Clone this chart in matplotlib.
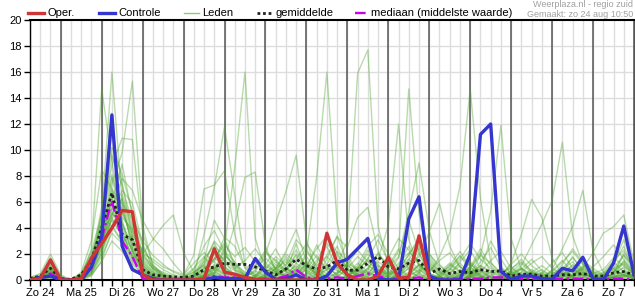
import numpy as np
import matplotlib
matplotlib.use('Agg')
import matplotlib.pyplot as plt
from matplotlib.lines import Line2D

plt.rcParams['font.family'] = ['Liberation Sans', 'DejaVu Sans']
plt.rcParams['font.size'] = 8

# 6-hourly steps, first step is zo 24 06:00
days = ['Zo 24', 'Ma 25', 'Di 26', 'Wo 27', 'Do 28', 'Vr 29', 'Za 30', 'Zo 31',
        'Ma 1', 'Di 2', 'Wo 3', 'Do 4', 'Vr 5', 'Za 6', 'Zo 7']

oper = [0, .1, 1.55, 0, 0, .1, 1.7, 2.8, 4.0, 5.35,
        5.25, .4, 0, 0, 0, 0, 0, .1, 2.4, .6,
        .45, .2, .05, 0, 0, 0, 0, 0, 0, 3.6,
        1.3, .4, 0, 0, .3, 1.75, .15, .2, 3.4, .1]

controle = [0, .2, .3, 0, 0, 0, 1.0, 3.3, 12.7, 2.6,
            .8, .4, .1, 0, 0, 0, 0, 0, .2, .1,
            .1, .1, 1.65, .6, .05, .1, .4, 0, 0, .3,
            1.3, 1.6, 2.4, 3.2, .1, 0, 0, 4.7, 6.4, .3,
            0, 0, 0, 2.0, 11.2, 12.0, .65, .05, .3, .3,
            .1, .05, .9, .7, 1.75, .1, 0, 1.3, 4.15, .4]

gemiddelde = [.1, .3, .9, .1, .05, .4, 1.5, 4.0, 6.7, 3.5,
              3.1, .8, .4, .3, .25, .2, .3, .8, 1.0, 1.3,
              1.2, 1.2, 1.0, .7, .4, .85, 1.6, 1.1, .85, 1.0,
              1.5, .75, .75, 1.3, 1.8, 1.0, .85, 1.3, 1.5, .5,
              .85, .5, .65, .55, .8, .65, .7, .3, .45, .45,
              .3, .3, .4, .4, .5, .3, .3, .55, .65, .4]

mediaan = [0, .05, .5, 0, 0, .1, .9, 3.2, 6.1, 3.0,
           1.8, .1, 0, 0, 0, 0, 0, .1, .3, .2,
           .2, .1, .1, .1, .1, .3, .8, .2, .1, .1,
           .2, .1, .3, .5, .3, .1, .1, .1, .2, 0,
           .1, .1, .1, .1, .1, .2, .2, .1, .1, .1,
           .05, .05, .1, .1, .1, .05, .05, .1, .1, .05]

leden = [
    [0, .2, 1.1, 0, 0, .1, .8, 5.2, 16.0, 6.1,
     2.3, .5, .1, 0, 0, 0, 0, .3, 1.2, .8,
     .4, .1, 0, 0, .6, 1.8, .9, .2, 0, .5,
     1.4, .3, 0, .2, 1.1, .5, 0, .3, 2.1, .4,
     0, .2, .6, 1.3, .4, 0, .1, 0, 0, .3,
     .5, 0, .2, .8, .3, 0, .1, .6, .9, .2],
    [0, 0, .6, .1, 0, .3, 2.4, 14.7, 9.2, 3.5,
     1.8, .9, .3, .1, 0, 0, .1, .6, 2.3, 1.5,
     .3, 0, 0, .4, 1.2, .6, 2.8, .7, .1, 0,
     .2, .9, .5, .1, 0, 0, .4, 1.6, .8, .2,
     0, 0, .3, .9, 2.1, .6, .2, 0, 0, 0,
     .1, .4, .9, .3, 0, 0, .2, .4, .1, 0],
    [.1, .3, 1.4, .2, 0, 0, .5, 3.1, 7.4, 9.8,
     15.3, 4.2, 1.1, .4, .2, 0, 0, 0, .5, 1.9,
     1.1, .4, 0, 0, .2, .5, 1.1, .3, 0, 1.2,
     2.6, .8, .2, 0, .4, 1.3, .6, 0, .2, 0,
     0, .5, 1.1, .4, 0, 0, .3, .7, .2, 0,
     0, 0, .4, 1.2, .6, .1, 0, .3, 1.5, .6],
    [0, 0, .8, 0, 0, .2, 1.3, 4.4, 8.1, 5.3,
     3.1, 1.4, .6, .2, 0, 0, .4, 3.5, 7.1, 11.8,
     6.5, 1.2, .3, 0, 0, .3, .8, .2, 0, .1,
     .6, 1.8, .7, .2, 0, 0, .1, .5, 1.2, .4,
     .2, 0, 0, .3, .8, .4, 0, 0, .2, .6,
     .3, 0, 0, .1, .5, .2, 0, 0, .4, .2],
    [0, .1, .5, 0, 0, 0, .9, 3.6, 6.2, 4.1,
     2.2, .8, .2, 0, 0, 0, 0, .2, .6, 2.5,
     8.7, 16.0, 3.2, .8, .2, 0, .4, 1.3, .5, .1,
     0, .2, .9, .4, 0, .3, .8, .2, 0, 0,
     .4, 1.2, .6, .2, 0, .3, .9, .3, 0, 0,
     0, .2, .5, .2, 0, 0, .3, .8, .4, .1],
    [.2, .4, 1.7, .3, 0, .1, 1.1, 2.8, 5.3, 3.9,
     1.6, .6, .2, 0, 0, 0, .2, .9, 1.4, .7,
     .2, 0, 0, .3, .9, 1.4, .6, 2.1, 7.9, 16.0,
     4.4, .9, .2, 0, .3, 1.1, 2.4, .8, .2, 0,
     0, 0, .5, 1.4, .7, .2, 0, 0, .3, .6,
     .2, 0, 0, .3, 1.1, .4, 0, .2, .6, .3],
    [0, 0, .3, 0, 0, .4, 1.6, 3.9, 9.6, 7.2,
     4.4, 2.1, .8, .3, 0, 0, 0, .3, 1.1, .6,
     .2, 0, .3, 1.2, 2.4, .9, .3, 0, .2, .8,
     1.2, 3.0, 15.9, 17.7, 4.1, 1.2, .3, 0, .5, 1.4,
     .6, .1, 0, .2, .5, .2, 0, .3, .9, .4,
     0, 0, .2, .4, 1.0, .3, 0, 0, .2, .5],
    [.1, .2, .9, .1, 0, 0, .6, 2.2, 4.7, 6.3,
     3.8, 1.9, 1.1, .5, .2, 0, 0, .1, .8, 2.2,
     1.4, .5, 0, 0, .3, .8, 1.9, .6, 0, 0,
     .4, 1.3, .8, .3, 1.6, 4.2, 12.0, 3.1, 1.0, .3,
     0, 0, .2, .7, .3, 0, .2, .6, 1.3, .5,
     .1, 0, .3, .9, .4, 0, .1, .5, 1.9, .7],
    [0, 0, .4, 0, 0, .2, .7, 2.6, 6.8, 5.5,
     2.9, 1.2, .4, .1, 0, 0, .3, 1.4, 2.9, 1.1,
     .3, 0, 0, .2, .6, .3, 0, .4, 1.3, 2.6,
     .8, .2, 0, .5, 1.4, .9, 2.2, 14.7, 5.1, 1.2,
     .3, 0, 0, .4, 1.1, .5, 0, 0, .1, .4,
     .8, .3, 0, 0, .4, .2, 0, .3, .7, .2],
    [0, .3, 1.2, .2, 0, .1, .9, 3.4, 7.9, 4.6,
     2.0, .7, .2, 0, 0, .2, .6, 1.1, .4, .1,
     0, .3, 1.1, 2.3, .8, .2, .6, 1.2, .4, 0,
     0, .3, .9, 1.5, .6, .1, 0, .4, 1.2, .5,
     1.8, 3.6, 7.2, 14.7, 6.3, 1.4, .3, 0, 0, .2,
     .6, .2, 0, .3, .8, .3, 0, .1, .4, .1],
    [.1, .2, .7, 0, 0, .3, 1.4, 4.9, 10.2, 8.1,
     5.2, 2.6, 1.0, .3, .1, 0, 0, .5, 1.7, 1.0,
     .4, .1, 0, .2, .8, 1.6, .7, .1, 0, .3,
     1.0, .4, .2, .8, 2.1, .9, .2, 0, .6, 1.8,
     .7, .2, 0, .4, 1.9, 5.3, 11.9, 3.2, .8, .2,
     0, 0, .3, .7, .3, 0, .2, .9, 1.3, .4],
    [0, 0, .5, 0, 0, 0, .4, 1.8, 3.6, 2.8,
     1.9, 1.3, .6, .2, 0, 0, .1, .4, .9, .5,
     .2, 0, .4, 1.1, .6, .2, 1.3, 2.4, 1.0, .2,
     0, 0, .3, .9, .4, 0, .5, 1.3, .6, .1,
     0, .3, .8, .4, .1, 0, 0, .4, 1.1, 2.7,
     4.3, 6.1, 10.6, 3.4, 1.2, .3, 0, .2, .5, .2],
    [0, .1, .6, 0, 0, .2, 1.0, 3.0, 5.6, 7.8,
     6.9, 4.6, 3.2, 2.4, 1.3, .4, 1.9, 7.0, 7.3, 8.4,
     3.5, .9, .2, 0, .3, .9, .4, 0, 0, .4,
     1.1, .5, .1, 0, .2, .7, .4, .1, 0, 0,
     .3, .9, .4, 0, .2, .6, .3, 0, .2, .5,
     .2, 0, 0, .4, .9, .5, .1, 0, .3, .1],
    [.1, .3, 1.0, .1, 0, .1, .7, 2.5, 4.8, 3.3,
     1.4, .4, .1, 0, 0, 0, .2, .7, 1.6, 2.9,
     1.3, .3, .6, 2.0, 4.4, 6.8, 9.6, 3.1, .6, .2,
     .5, 1.2, .4, 0, 0, .4, 1.0, .3, .7, 2.0,
     .9, .2, 0, .3, .7, .2, 0, .4, .9, .3,
     0, .2, .6, 1.8, .7, .1, 0, .5, 2.1, .9],
    [0, 0, .2, 0, 0, .5, 2.0, 4.0, 6.0, 8.9,
     5.0, 2.0, 3.1, 4.2, 5.0, 2.1, .6, .2, .5, 1.3,
     .7, .2, 0, 0, .4, 1.0, .5, .9, 2.7, 1.1,
     .3, 0, .6, 1.7, .8, .2, 0, .3, .8, .3,
     0, .4, 1.4, 2.3, .9, .2, 0, 0, .3, .8,
     .4, 0, 0, .3, 1.6, .6, .1, .2, .7, .3],
    [0, .2, 1.3, .2, 0, 0, .3, 1.5, 3.9, 6.6,
     4.1, 1.5, .7, .3, .1, .3, .9, 1.8, .7, .2,
     0, 0, .2, .8, 1.6, .7, .2, 0, .3, 1.6,
     3.4, 1.2, .4, 0, .3, .9, 1.8, 4.6, 2.1, .5,
     .1, 0, .4, 1.0, .3, 0, .3, .6, .2, 0,
     .2, .7, 1.5, .6, .1, 0, .3, 1.2, 3.1, 1.0],
    [0, 0, .3, 0, 0, .1, .5, 2.0, 4.2, 3.0,
     1.2, .5, .1, 0, 0, 0, 0, .2, .8, .4,
     .1, 0, 0, .5, 1.4, .6, .3, .8, 1.9, .7,
     .2, 0, .3, .7, .2, 0, .4, 1.1, .5, 0,
     .2, .8, 1.9, .7, .2, 0, .3, 1.3, 3.5, 6.2,
     4.8, 1.7, .4, .1, 0, 0, .4, 1.4, .6, .2],
    [.1, .2, .8, .1, 0, 0, .8, 2.9, 5.1, 4.3,
     2.7, 1.0, .3, .1, 0, 0, .3, 1.0, 2.0, .9,
     .3, .1, 0, 0, .3, .9, .4, .1, .5, 1.0,
     .4, .1, .5, 1.2, .5, .2, 1.1, 2.6, 1.2, .3,
     0, .2, .6, .3, 0, 0, .2, .5, .9, .3,
     .1, .8, 2.4, 4.1, 6.9, 2.2, .6, .2, 0, 0],
    [0, 0, .4, 0, 0, .3, 1.2, 3.3, 5.9, 3.7,
     1.7, .6, .2, 0, 0, 0, .1, .4, .3, .1,
     0, .2, .7, .3, 0, .2, .9, 1.8, .8, .2,
     0, .2, .8, 2.3, 1.0, .3, 0, .2, .4, .1,
     0, 0, .3, .8, .4, .1, 0, .3, .6, .2,
     0, .2, .5, .3, .9, 2.1, 3.6, 4.1, 5.0, 1.3],
    [.1, .1, .5, 0, 0, .2, 1.1, 3.7, 7.0, 5.8,
     2.5, .8, .2, 0, 0, 0, .2, .6, 1.0, .4,
     .1, 0, .2, .6, 1.0, .4, .1, 0, .4, 1.2,
     .7, .3, .9, 2.0, 1.2, .4, 1.7, 5.3, 9.0, 3.8,
     1.2, .4, 0, .2, .6, .3, 0, .2, .5, .2,
     0, .3, .8, 1.4, .6, .2, 0, .4, 1.0, .5],
    [0, 0, .2, 0, 0, .4, 1.8, 4.5, 8.8, 10.9,
     10.8, 3.6, 1.2, .4, .1, 0, 0, .3, .9, 1.6,
     4.2, 7.9, 8.3, 2.6, .7, .2, 0, .3, .9, .5,
     .2, 0, 0, .3, .8, .3, 0, .4, 1.1, .5,
     .2, .6, 1.3, .5, .1, 0, .2, .5, .2, 0,
     0, .2, .7, .3, 0, .1, .4, .9, .3, 0],
    [.2, .5, 2.0, .4, 0, .6, 3.0, 8.5, 7.0, 4.4,
     2.2, .9, .3, 0, 0, 0, .1, .3, .6, .3,
     0, .2, .8, 1.7, .9, .3, .7, 1.5, .6, .1,
     0, .3, 1.0, .5, .1, 0, .3, .9, 2.4, 1.0,
     .3, 0, .2, .6, .2, 0, .4, 1.0, .4, .1,
     0, .3, .6, .2, 0, .2, .5, 1.2, 2.6, .8],
    [0, .1, .6, 0, 0, .1, .6, 2.1, 5.0, 6.9,
     5.9, 2.8, .9, .3, 0, 0, .3, 1.2, 3.0, 2.1,
     .8, .3, 0, .2, .7, .3, 0, .2, .7, 1.9,
     3.3, 2.5, 4.8, 5.6, 2.2, .6, .1, 0, .2, .5,
     .2, 0, .4, 1.0, 2.4, 1.1, .3, 0, 0, .2,
     .5, .2, 0, .2, .6, .3, 0, .2, .4, .2],
    [0, 0, .1, 0, 0, .1, .4, 1.4, 3.0, 2.2,
     1.0, .3, 0, 0, 0, 0, 0, .1, .4, .2,
     0, 0, .1, .4, .2, 0, .3, .8, .3, 0,
     0, .1, .4, .2, 0, 0, .2, .6, .3, 0,
     0, .1, .4, .2, 0, 0, .1, .3, .1, 0,
     0, 0, .2, .5, .2, 0, 0, .2, .4, .1],
    [.1, .2, .9, .1, 0, .2, 1.5, 5.6, 11.4, 7.5,
     3.3, 1.1, .4, .1, 0, 0, 0, .2, .5, .2,
     0, 0, .3, .9, .4, .1, .5, 1.1, .5, 0,
     .3, .8, .3, 0, .2, .6, .3, .9, 1.8, 3.7,
     5.9, 2.6, 1.0, .4, .9, 3.0, 1.6, .4, 0, 0,
     .2, .6, .3, 0, .2, .7, .4, 0, .3, .6],
    [0, 0, .4, 0, 0, .3, 1.0, 2.4, 4.0, 5.1,
     3.6, 1.8, .9, .4, .2, .1, .4, 1.5, 4.6, 3.2,
     1.0, .3, 0, .3, .9, 2.2, 3.9, 1.4, .3, 0,
     0, .4, 1.3, .6, .2, 0, .6, 2.0, 3.0, 1.1,
     .4, 1.1, 2.2, 1.0, .3, 0, .1, .8, 1.6, .6,
     .2, 0, .4, 1.1, .5, .1, 0, .6, 1.4, .5],
    [0, .1, .7, .1, 0, .2, 1.3, 3.1, 4.6, 3.4,
     2.4, 1.1, .5, .2, 0, .1, .5, 1.7, 2.6, 1.9,
     1.2, .6, .3, .9, 1.8, 1.1, 2.3, 1.0, .4, .8,
     2.2, 1.5, .7, 1.6, 3.1, 1.4, .5, 1.2, 2.7, 1.3,
     .5, 1.0, 1.8, 1.2, .6, 1.5, 2.2, .9, .3, .6,
     1.1, .5, .9, 1.7, .8, .3, .6, 1.5, 2.3, .8],
    [.1, .3, 1.5, .2, 0, .4, 2.2, 5.0, 4.1, 2.9,
     3.4, 2.3, 1.4, .8, .4, .2, .8, 2.6, 3.8, 2.2,
     .9, 1.5, 2.4, 1.3, .6, 1.2, 3.1, 2.2, 1.1, 1.8,
     1.0, .4, 1.1, 2.6, 3.5, 2.0, .9, 1.9, 3.3, 1.6,
     .6, 1.3, .7, .4, 1.4, 2.5, 1.0, .3, .8, 1.6,
     .7, .3, 1.2, 2.4, 1.3, .5, .8, 1.7, 1.1, .4],
    [0, 0, .5, 0, 0, .1, .9, 2.7, 5.5, 4.8,
     3.9, 2.0, 1.6, 1.0, .7, .4, 1.3, 2.1, 1.4, 3.3,
     2.6, 1.0, .4, .2, .9, 2.0, 1.3, .6, 1.5, 2.8,
     1.9, .9, 1.8, 1.1, .6, 1.7, 3.2, 2.3, 1.2, .7,
     1.5, 2.1, 1.0, .5, 1.1, .7, .4, 1.2, 2.0, 1.1,
     .5, 1.3, 2.1, .9, .4, 1.0, 1.8, 2.7, 1.6, .6],
    [.1, .2, 1.0, .1, 0, .3, 1.6, 4.2, 6.4, 5.9,
     4.7, 3.0, 1.9, 1.2, .6, .3, .6, 1.2, 2.2, 1.6,
     .8, .4, 1.0, 2.1, 1.5, .7, 1.6, 2.8, 1.7, .9,
     .5, 1.2, 2.3, 1.4, .8, .4, 1.3, 2.1, 1.5, .9,
     .3, .8, 1.6, 2.8, 1.6, .9, .5, .2, .6, 1.3,
     1.8, .9, .4, .8, 1.5, .9, .4, .9, 1.9, 1.0],
    [0, .1, .8, 0, 0, .2, 1.4, 3.6, 5.0, 6.2,
     3.2, 1.6, .9, .6, .3, .1, .3, .9, 1.6, 2.7,
     1.8, 2.5, 1.4, .6, .3, .8, 2.0, 1.1, 2.4, 3.4,
     2.1, .8, .4, .9, 2.0, 1.2, .7, 1.6, 2.5, 2.0,
     1.1, .5, .3, .9, 1.9, 1.3, .6, .9, 1.4, .7,
     .3, .6, 1.4, 2.2, 1.2, .6, .3, .7, 1.2, .5],
]

W, H = 635, 300
fig = plt.figure(figsize=(W / 100, H / 100), dpi=100)
ax = fig.add_axes([30 / W, 20 / H, 604 / W, 260 / H])

n = len(gemiddelde)
t = np.arange(n)

# grid: light every 6 h, dark at midnight
for i in t:
    ax.axvline(i, color='#dddddd', lw=1, zorder=0)
for y in range(2, 20, 2):
    ax.axhline(y, color='#dddddd', lw=1, zorder=0)
for d in range(3, n, 4):
    ax.axvline(d, color='#555555', lw=1.1, zorder=1)

for lid in leden:
    ax.plot(t, lid, color='#4ea72e', lw=1.0, alpha=0.4, zorder=2)

ax.plot(t, mediaan, color='#cc00ee', lw=1.7, ls=(0, (4.5, 1.5, 1, 1.5)), zorder=3)
ax.plot(t, gemiddelde, color='#222222', lw=2.0, ls=(0, (1, 1)), zorder=4)
ax.plot(t, controle, color='#3535cf', lw=2.4, zorder=5)
ax.plot(np.arange(len(oper)), oper, color='#cf3535', lw=2.4, zorder=6)

ax.set_xlim(0, n - 1)
ax.set_ylim(0, 20)
ax.set_yticks(range(0, 21, 2))
ax.set_xticks(np.arange(1, n, 4))
ax.set_xticklabels(days)
ax.set_xticks(t, minor=True)
ax.tick_params(axis='both', which='both', length=4, width=1, pad=2, colors='black')
ax.tick_params(axis='x', labelsize=8)
ax.tick_params(axis='y', labelsize=8)

for s in ['left', 'top', 'bottom']:
    ax.spines[s].set_color('black')
ax.spines['left'].set_linewidth(1)
ax.spines['top'].set_linewidth(1.5)
ax.spines['bottom'].set_linewidth(1.5)
ax.spines['right'].set_color('#555555')

# legend along the top
def leg_line(x0, x1, **kw):
    fig.add_artist(Line2D([x0 / W, x1 / W], [1 - 13.3 / H, 1 - 13.3 / H],
                          transform=fig.transFigure, **kw))

def leg_text(x, s):
    fig.text(x / W, 1 - 13 / H, s, va='center', ha='left', fontsize=8)

leg_line(28, 44, color='#cf3535', lw=2.4)
leg_text(47, 'Oper.')
leg_line(99, 115, color='#3535cf', lw=2.4)
leg_text(118, 'Controle')
leg_line(184, 199, color='#8ccc6e', lw=1)
leg_text(202, 'Leden')
leg_line(257, 272, color='#222222', lw=2.0, ls=(0, (1, 1)))
leg_text(276, 'gemiddelde')
leg_line(355, 369, color='#cc00ee', lw=1.7, ls=(0, (4.5, 1.5, 1, 1.5)))
leg_text(371, 'mediaan (middelste waarde)')

fig.text(633 / W, 1 - 4.5 / H, 'Weerplaza.nl - regio zuid', ha='right', va='center',
         fontsize=6.5, color='#a0a0a0')
fig.text(633 / W, 1 - 14.5 / H, 'Gemaakt: zo 24 aug 10:50', ha='right', va='center',
         fontsize=6.5, color='#a0a0a0')

plt.savefig('out.png', dpi=100)
